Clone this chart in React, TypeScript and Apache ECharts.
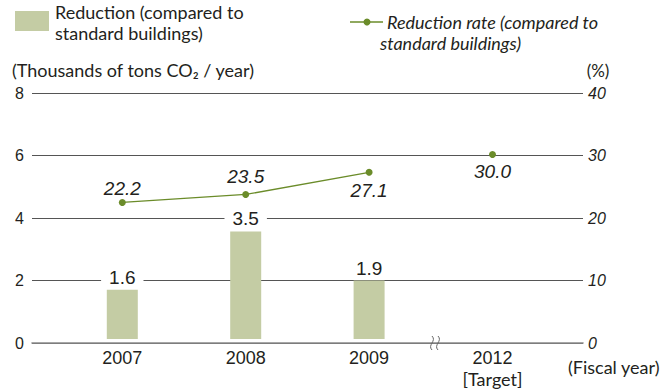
import React, { useEffect, useRef } from "react";
import * as echarts from "echarts";

const categories = ["2007", "2008", "2009", "2012"];
const reductionValues = [1.6, 3.5, 1.9, null];
const rateActual = [22.2, 23.5, 27.1, null];
const rateTarget = [null, null, null, 30.0];
const leftTicks = { min: 0, max: 8, interval: 2 };
const rightTicks = { min: 0, max: 40, interval: 10 };

const HUM = "Lato, 'Liberation Sans', sans-serif";
const HEL = "'Liberation Sans', Arial, sans-serif";
const TXT = "#231f20";
const GREEN = "#6b8c2a";
const BAR = "#c4cca4";

export default function App() {
  const ref = useRef<HTMLDivElement>(null);
  useEffect(() => {
    if (!ref.current) return;
    const chart = echarts.init(ref.current, null, { renderer: "svg" });
    const labelPos = ["top", "top", "bottom", "bottom"];
    const labelDist = [2.5, 6, 6.5, 5.5];
    // white knock-out behind bar labels that sit on a grid line
    const barLabelBg = ["#ffffff", "#ffffff", "transparent", "transparent"];
    chart.setOption({
      animation: false,
      backgroundColor: "#ffffff",
      grid: [
        { left: 32, right: 86, top: 93, bottom: 46 },
        { left: 60.6, right: 114.8, top: 93, bottom: 46 },
      ],
      xAxis: [
        {
          gridIndex: 0,
          type: "value",
          min: 0,
          max: 1,
          axisLine: { show: true, lineStyle: { color: "#8a8a8a", width: 1.6 } },
          axisTick: { show: false },
          axisLabel: { show: false },
          splitLine: { show: false },
        },
        {
          gridIndex: 1,
          type: "category",
          data: categories,
          axisLine: { show: false },
          axisTick: { show: false },
          axisLabel: {
            margin: 8,
            color: TXT,
            fontFamily: HEL,
            fontSize: 18,
            lineHeight: 21,
            verticalAlign: "top",
            formatter: (v: string) => (v === "2012" ? "2012\n{t|[Target]}" : v),
            rich: {
              t: { fontFamily: HUM, fontSize: 18, color: TXT, lineHeight: 21 },
            },
          },
        },
      ],
      yAxis: [
        {
          gridIndex: 0,
          type: "value",
          ...leftTicks,
          axisLine: { show: false },
          axisTick: { show: false },
          axisLabel: { margin: 8, color: TXT, fontFamily: HEL, fontSize: 16 },
          splitLine: { show: true, lineStyle: { color: "#555555", width: 1 } },
        },
        {
          gridIndex: 0,
          type: "value",
          position: "right",
          ...rightTicks,
          axisLine: { show: false },
          axisTick: { show: false },
          axisLabel: {
            margin: 5,
            color: TXT,
            fontFamily: HEL,
            fontStyle: "italic",
            fontSize: 16,
          },
          splitLine: { show: false },
        },
        { gridIndex: 1, type: "value", ...leftTicks, show: false },
        { gridIndex: 1, type: "value", ...rightTicks, show: false },
      ],
      series: [
        {
          type: "bar",
          xAxisIndex: 1,
          yAxisIndex: 2,
          data: reductionValues.map((v, i) =>
            v == null ? "-" : { value: v, label: { backgroundColor: barLabelBg[i] } }
          ),
          barWidth: 31,
          itemStyle: { color: BAR },
          label: {
            show: true,
            position: "top",
            distance: 4.5,
            color: TXT,
            fontFamily: HEL,
            fontSize: 19,
            lineHeight: 16,
            padding: [0, 8, 0, 8],
            formatter: (p: any) => Number(p.value).toFixed(1),
          },
          z: 3,
        },
        {
          type: "line",
          xAxisIndex: 1,
          yAxisIndex: 3,
          data: rateActual.map((v, i) =>
            v == null
              ? "-"
              : { value: v, label: { position: labelPos[i], distance: labelDist[i] } }
          ),
          connectNulls: false,
          symbol: "circle",
          symbolSize: 7,
          lineStyle: { color: GREEN, width: 1.3 },
          itemStyle: { color: GREEN },
          label: {
            show: true,
            color: TXT,
            fontFamily: HEL,
            fontStyle: "italic",
            fontSize: 19,
            lineHeight: 16,
            formatter: (p: any) => Number(p.value).toFixed(1),
          },
          z: 4,
        },
        {
          type: "line",
          xAxisIndex: 1,
          yAxisIndex: 3,
          data: rateTarget.map((v, i) =>
            v == null
              ? "-"
              : { value: v, label: { position: labelPos[i], distance: labelDist[i] } }
          ),
          symbol: "circle",
          symbolSize: 7,
          showSymbol: true,
          lineStyle: { color: GREEN, width: 1.3 },
          itemStyle: { color: GREEN },
          label: {
            show: true,
            color: TXT,
            fontFamily: HEL,
            fontStyle: "italic",
            fontSize: 19,
            lineHeight: 16,
            formatter: (p: any) => Number(p.value).toFixed(1),
          },
          z: 4,
        },
      ],
      graphic: [
        { type: "rect", shape: { x: 15, y: 11, width: 34, height: 20 }, style: { fill: BAR } },
        {
          type: "text",
          x: 55,
          y: 22,
          style: {
            text: "Reduction (compared to\nstandard buildings)",
            fontFamily: HUM,
            fontSize: 18,
            lineHeight: 21,
            fill: TXT,
            verticalAlign: "middle",
          },
        },
        {
          type: "line",
          shape: { x1: 350, y1: 22, x2: 383, y2: 22 },
          style: { stroke: GREEN, lineWidth: 1.3 },
        },
        { type: "circle", shape: { cx: 367, cy: 22, r: 3.5 }, style: { fill: GREEN } },
        {
          type: "text",
          x: 387,
          y: 22,
          style: {
            text: "Reduction rate (compared to",
            fontFamily: HUM,
            fontStyle: "italic",
            fontSize: 18,
            fill: TXT,
            verticalAlign: "middle",
          },
        },
        {
          type: "text",
          x: 380,
          y: 43,
          style: {
            text: "standard buildings)",
            fontFamily: HUM,
            fontStyle: "italic",
            fontSize: 18,
            fill: TXT,
            verticalAlign: "middle",
          },
        },
        {
          type: "text",
          x: 12,
          y: 70,
          style: {
            text: "(Thousands of tons CO₂ / year)",
            fontFamily: HUM,
            fontSize: 18,
            fill: TXT,
            verticalAlign: "middle",
          },
        },
        {
          type: "text",
          x: 598,
          y: 70,
          style: {
            text: "(%)",
            fontFamily: HUM,
            fontSize: 17,
            fill: TXT,
            align: "center",
            verticalAlign: "middle",
          },
        },
        {
          type: "text",
          x: 568,
          y: 367,
          style: {
            text: "(Fiscal year)",
            fontFamily: HUM,
            fontSize: 18,
            fill: TXT,
            verticalAlign: "middle",
          },
        },
        {
          type: "bezierCurve",
          shape: { x1: 432, y1: 336, cpx1: 437, cpy1: 341, cpx2: 427, cpy2: 345, x2: 432, y2: 350 },
          style: { stroke: "#666", lineWidth: 1, fill: "none" },
          z: 10,
        },
        {
          type: "bezierCurve",
          shape: { x1: 438, y1: 336, cpx1: 443, cpy1: 341, cpx2: 433, cpy2: 345, x2: 438, y2: 350 },
          style: { stroke: "#666", lineWidth: 1, fill: "none" },
          z: 10,
        },
      ],
    });
    return () => chart.dispose();
  }, []);
  return (
    <div
      ref={ref}
      style={{ position: "fixed", left: 0, top: 0, width: 669, height: 389 }}
    />
  );
}
